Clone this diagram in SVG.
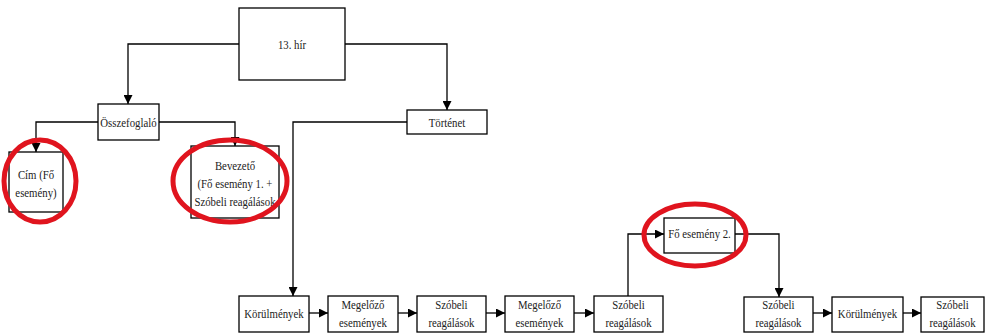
<svg xmlns="http://www.w3.org/2000/svg" width="985" height="334" viewBox="0 0 985 334">
  <defs>
    <marker id="arrow" viewBox="0 0 10 10" refX="10" refY="5" markerWidth="9" markerHeight="9" markerUnits="userSpaceOnUse" orient="auto">
      <path d="M0,0 L10,5 L0,10 z" fill="#000"/>
    </marker>
  </defs>
  <style>
    .box { fill: #fff; stroke: #000; stroke-width: 1.3; }
    .conn { fill: none; stroke: #000; stroke-width: 1.3; }
    .lbl { font-family: "Liberation Serif", "Times New Roman", serif; font-size: 13px; fill: #222; text-anchor: middle; }
    .mark { fill: none; stroke: #e0141e; stroke-width: 5; }
  </style>
  <rect width="985" height="334" fill="#fff"/>

  <!-- connectors -->
  <g id="connectors">
    <path class="conn" d="M239,44 H128 V104" marker-end="url(#arrow)"/>
    <path class="conn" d="M345,44 H447 V110" marker-end="url(#arrow)"/>
    <path class="conn" d="M98,122 H36 V152" marker-end="url(#arrow)"/>
    <path class="conn" d="M159,122 H235 V146" marker-end="url(#arrow)"/>
    <path class="conn" d="M407,122 H293 V296" marker-end="url(#arrow)"/>
    <path class="conn" d="M309,313 H328" marker-end="url(#arrow)"/>
    <path class="conn" d="M398,313 H417" marker-end="url(#arrow)"/>
    <path class="conn" d="M486,313 H505" marker-end="url(#arrow)"/>
    <path class="conn" d="M574,313 H594" marker-end="url(#arrow)"/>
    <path class="conn" d="M628,296 V234 H664" marker-end="url(#arrow)"/>
    <path class="conn" d="M735,234 H779 V297" marker-end="url(#arrow)"/>
    <path class="conn" d="M813,313 H832" marker-end="url(#arrow)"/>
    <path class="conn" d="M903,313 H921" marker-end="url(#arrow)"/>
  </g>

  <!-- nodes -->
  <g id="node-hir"><rect class="box" x="239" y="8" width="106" height="72"/></g>
  <g id="node-osszefoglalo"><rect class="box" x="98" y="104" width="61" height="36"/></g>
  <g id="node-tortenet"><rect class="box" x="407" y="110" width="80" height="24"/></g>
  <g id="node-cim"><rect class="box" x="9" y="152" width="54" height="60"/></g>
  <g id="node-bevezeto"><rect class="box" x="191" y="146" width="88" height="72"/></g>
  <g id="node-korulmenyek1"><rect class="box" x="239" y="296" width="70" height="36"/></g>
  <g id="node-megelozo1"><rect class="box" x="328" y="296" width="70" height="36"/></g>
  <g id="node-szobeli1"><rect class="box" x="417" y="296" width="69" height="36"/></g>
  <g id="node-megelozo2"><rect class="box" x="505" y="296" width="69" height="36"/></g>
  <g id="node-szobeli2"><rect class="box" x="594" y="296" width="69" height="36"/></g>
  <g id="node-foesemeny2"><rect class="box" x="664" y="218" width="71" height="35"/></g>
  <g id="node-szobeli3"><rect class="box" x="744" y="297" width="69" height="35"/></g>
  <g id="node-korulmenyek2"><rect class="box" x="832" y="297" width="71" height="35"/></g>
  <g id="node-szobeli4"><rect class="box" x="921" y="297" width="63" height="35"/></g>

  <!-- labels, drawn narrow -->
  <g transform="scale(0.83,1)">
    <text class="lbl" x="351.8" y="49">13. hír</text>
    <text class="lbl" x="154.8" y="127">Összefoglaló</text>
    <text class="lbl" x="538.6" y="127">Történet</text>
    <text class="lbl" x="43.4" y="179">Cím (Fő</text>
    <text class="lbl" x="43.4" y="197">esemény)</text>
    <text class="lbl" x="283.1" y="170">Bevezető</text>
    <text class="lbl" x="283.1" y="188">(Fő esemény 1.  +</text>
    <text class="lbl" x="283.1" y="206">Szóbeli reagálások</text>
    <text class="lbl" x="330.1" y="318">Körülmények</text>
    <text class="lbl" x="437.3" y="309">Megelőző</text>
    <text class="lbl" x="437.3" y="327">események</text>
    <text class="lbl" x="543.9" y="309">Szóbeli</text>
    <text class="lbl" x="543.9" y="327">reagálások</text>
    <text class="lbl" x="650.0" y="309">Megelőző</text>
    <text class="lbl" x="650.0" y="327">események</text>
    <text class="lbl" x="757.2" y="309">Szóbeli</text>
    <text class="lbl" x="757.2" y="327">reagálások</text>
    <text class="lbl" x="842.8" y="238">Fő esemény 2.</text>
    <text class="lbl" x="937.9" y="309">Szóbeli</text>
    <text class="lbl" x="937.9" y="327">reagálások</text>
    <text class="lbl" x="1045.2" y="318">Körülmények</text>
    <text class="lbl" x="1147.6" y="309">Szóbeli</text>
    <text class="lbl" x="1147.6" y="327">reagálások</text>
  </g>

  <!-- red highlight rings -->
  <g id="highlights">
    <ellipse class="mark" cx="40" cy="181" rx="36" ry="41"/>
    <ellipse class="mark" cx="230" cy="181" rx="57" ry="41"/>
    <ellipse class="mark" cx="695" cy="235" rx="51" ry="31"/>
  </g>
</svg>
